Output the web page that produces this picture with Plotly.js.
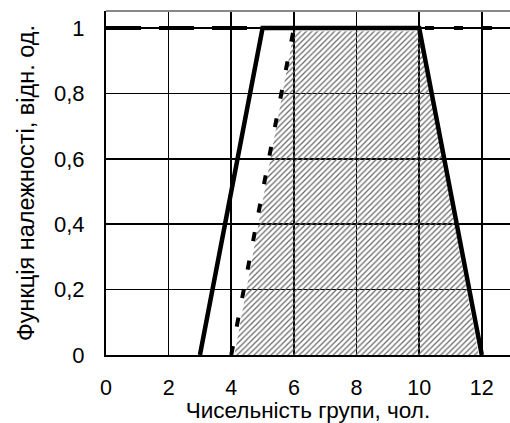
<!DOCTYPE html>
<html>
<head>
<meta charset="utf-8">
<script src="https://cdn.plot.ly/plotly-3.0.1.min.js"></script>
<style>html,body{margin:0;padding:0;background:#fff;}#chart{width:510px;height:423px;}</style>
</head>
<body>
<div id="chart"></div>
<script>
// Data
const solidX = [3, 5, 10, 12];
const solidY = [0, 1, 1, 0];
const dashedX = [4, 6, 12.9];
const dashedY = [0, 1, 1];
const longDashX = [0, 5];
const longDashY = [1, 1];
const hatchX = [4.1, 6, 10, 11.9];
const hatchY = [0, 0.99, 0.99, 0];
const xTicks = [0, 2, 4, 6, 8, 10, 12];
const yTicks = [0, 0.2, 0.4, 0.6, 0.8, 1];
const xTitle = 'Чисельність групи, чол.';
const yTitle = 'Функція належності, відн. од.';

const font = {family: '"Liberation Sans", Arial, sans-serif', color: '#000'};

const traces = [
  {x: hatchX, y: hatchY, mode: 'lines', fill: 'toself', line: {width: 0, color: 'rgba(0,0,0,0)'},
   fillcolor: 'rgba(0,0,0,0)',
   fillpattern: {shape: '/', fgcolor: '#666', bgcolor: 'rgba(0,0,0,0)', size: 4, solidity: 0.3},
   hoverinfo: 'skip', showlegend: false},
  {x: longDashX, y: longDashY, mode: 'lines', line: {color: '#000', width: 4, dash: '35px,18px'}, showlegend: false},
  {x: dashedX, y: dashedY, mode: 'lines', line: {color: '#000', width: 4, dash: '9px,20px'}, showlegend: false},
  {x: solidX, y: solidY, mode: 'lines', line: {color: '#000', width: 4.5}, showlegend: false}
];

const layout = {
  width: 510, height: 423,
  margin: {l: 106, r: 0, t: 11, b: 68, pad: 0},
  paper_bgcolor: '#fff', plot_bgcolor: '#fff',
  separators: ', ',
  showlegend: false,
  font: Object.assign({size: 22}, font),
  xaxis: {
    range: [0, 12.9], tickvals: xTicks, ticktext: xTicks.map(String),
    showgrid: true, gridcolor: '#000', gridwidth: 1.7,
    zeroline: false, showline: true, linecolor: '#000', linewidth: 2,
    ticks: '', ticklabelstandoff: 12,
    tickfont: Object.assign({size: 21.5}, font),
    title: {text: xTitle, font: Object.assign({size: 22.5}, font), standoff: 6}
  },
  yaxis: {
    range: [0, 1.052], tickvals: yTicks, ticktext: yTicks.map(v => String(v).replace('.', ',')),
    showgrid: true, gridcolor: '#000', gridwidth: 1.7,
    zeroline: false, showline: true, linecolor: '#000', linewidth: 2,
    ticks: '', ticklabelstandoff: 15,
    tickfont: Object.assign({size: 22}, font),
    title: {text: yTitle, font: Object.assign({size: 23.5}, font), standoff: 13}
  },
  shapes: [
    {type: 'line', xref: 'paper', yref: 'paper', x0: 0, x1: 1, y0: 1, y1: 1, line: {color: '#888', width: 2}}
  ]
};

Plotly.newPlot('chart', traces, layout, {staticPlot: true, displayModeBar: false});
</script>
</body>
</html>
